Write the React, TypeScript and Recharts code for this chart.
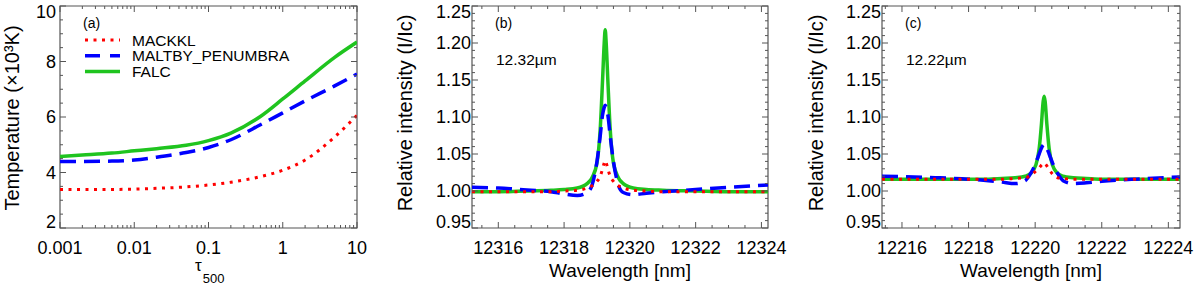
import { LineChart, Line, XAxis, YAxis, ReferenceArea } from "recharts";

// (a) temperature stratification of the three atmosphere models
const tau = [0.001, 0.002, 0.005, 0.01, 0.02, 0.05, 0.1, 0.2, 0.5, 1, 2, 5, 10];
const tempMackkl = [3.39, 3.39, 3.39, 3.4, 3.43, 3.48, 3.55, 3.65, 3.85, 4.08, 4.45, 5.28, 6.06];
const tempMaltby = [4.4, 4.4, 4.41, 4.45, 4.55, 4.72, 4.9, 5.18, 5.72, 6.15, 6.58, 7.12, 7.55];
const tempFalc = [4.58, 4.63, 4.7, 4.78, 4.86, 4.98, 5.15, 5.42, 6.02, 6.65, 7.3, 8.15, 8.7];

// (b) 12.32 micron line profiles
const wlB = [
  12315.2, 12316, 12317, 12317.6, 12318, 12318.4, 12318.7, 12318.85, 12319.0, 12319.1, 12319.17,
  12319.22, 12319.25, 12319.28, 12319.33, 12319.4, 12319.5, 12319.65, 12319.8, 12320.1, 12320.5,
  12321, 12322, 12323, 12324.2,
];
const intMackklB = [
  0.999, 0.999, 0.999, 0.999, 1.0, 1.001, 1.004, 1.007, 1.013, 1.02, 1.03, 1.038, 1.041, 1.038,
  1.03, 1.02, 1.013, 1.007, 1.004, 1.001, 1.0, 0.999, 0.999, 0.999, 0.999,
];
const intMaltbyB = [
  1.005, 1.004, 1.001, 0.999, 0.996, 0.994, 0.998, 1.008, 1.04, 1.075, 1.103, 1.113, 1.116, 1.113,
  1.103, 1.075, 1.04, 1.008, 0.998, 0.995, 0.997, 0.999, 1.002, 1.005, 1.008,
];
const intFalcB = [
  0.999, 0.999, 1.0, 1.001, 1.002, 1.004, 1.01, 1.018, 1.038, 1.085, 1.15, 1.2, 1.218, 1.2, 1.15,
  1.085, 1.038, 1.018, 1.01, 1.004, 1.002, 1.001, 1.0, 0.999, 0.999,
];

// (c) 12.22 micron line profiles
const wlC = [
  12215.4, 12216, 12217, 12218, 12218.6, 12219.0, 12219.4, 12219.7, 12219.87, 12220.02, 12220.12,
  12220.19, 12220.24, 12220.27, 12220.3, 12220.35, 12220.42, 12220.52, 12220.67, 12220.84,
  12221.14, 12221.54, 12222, 12223, 12224.35,
];
const intMackklC = [
  1.016, 1.016, 1.016, 1.016, 1.016, 1.016, 1.017, 1.018, 1.021, 1.027, 1.031, 1.035, 1.037, 1.038,
  1.037, 1.034, 1.029, 1.023, 1.018, 1.017, 1.016, 1.016, 1.016, 1.016, 1.016,
];
const intMaltbyC = [
  1.02, 1.0195, 1.018, 1.016, 1.014, 1.012, 1.01, 1.014, 1.024, 1.038, 1.05, 1.058, 1.062, 1.063,
  1.062, 1.058, 1.05, 1.038, 1.024, 1.014, 1.01, 1.011, 1.013, 1.016, 1.019,
];
const intFalcC = [
  1.016, 1.016, 1.016, 1.016, 1.016, 1.017, 1.018, 1.02, 1.024, 1.035, 1.057, 1.091, 1.121, 1.128,
  1.121, 1.091, 1.057, 1.035, 1.024, 1.02, 1.018, 1.017, 1.016, 1.016, 1.016,
];

const tauMajor = [0.001, 0.01, 0.1, 1, 10];
const tempMajor = [2, 4, 6, 8, 10];
const intMajor = [0.95, 1.0, 1.05, 1.1, 1.15, 1.2, 1.25];
const wlMajorB = [12316, 12318, 12320, 12322, 12324];
const wlMajorC = [12216, 12218, 12220, 12222, 12224];

const FONT = "'Liberation Sans', Arial, Helvetica, sans-serif";
const FRAME = "#555";
const RED = "#ff0000";
const BLUE = "#0000ff";
const GREEN = "#1fc41f";
const PLOT_H = 222;

const range = (from: number, to: number, step: number) => {
  const n = Math.round((to - from) / step);
  return Array.from({ length: n + 1 }, (_, i) => +(from + i * step).toFixed(4));
};

const logTicks = [0.001, 0.01, 0.1, 1]
  .flatMap((d) => [1, 2, 3, 4, 5, 6, 7, 8, 9].map((k) => +(k * d).toPrecision(6)))
  .concat([10]);

const isMajor = (v: number, majors: number[]) => majors.some((m) => Math.abs(m - v) < 1e-9);

function BottomTick(props: any) {
  const { x, y, payload, majors, plotH } = props;
  const major = isMajor(payload.value, majors);
  const len = major ? 6 : 3;
  return (
    <g>
      <line x1={x} x2={x} y1={y} y2={y - len} stroke={FRAME} />
      <line x1={x} x2={x} y1={y - plotH} y2={y - plotH + len} stroke={FRAME} />
      {major && (
        <text x={x} y={y + 26} textAnchor="middle" fontSize={18} fill="#000" fontFamily={FONT}>
          {String(payload.value)}
        </text>
      )}
    </g>
  );
}

function LeftTick(props: any) {
  const { x, y, payload, majors, plotW, gap, lo, hi, digits } = props;
  const v = payload.value;
  const major = isMajor(v, majors);
  const len = major ? 6 : 3;
  // labels at the ends of the axis are pulled inward, as in the original plot
  const shift = Math.abs(v - hi) < 1e-9 ? 6 : Math.abs(v - lo) < 1e-9 ? -6 : 0;
  return (
    <g>
      <line x1={x} x2={x + len} y1={y} y2={y} stroke={FRAME} />
      <line x1={x + plotW} x2={x + plotW - len} y1={y} y2={y} stroke={FRAME} />
      {major && (
        <text
          x={x - gap}
          y={y + shift}
          dy="0.35em"
          textAnchor="end"
          fontSize={18}
          fill="#000"
          fontFamily={FONT}
        >
          {digits ? v.toFixed(digits) : String(v)}
        </text>
      )}
    </g>
  );
}

function YTitle(props: any) {
  const { tx, ty, title } = props;
  return (
    <text
      x={tx}
      y={ty}
      transform={`rotate(-90, ${tx}, ${ty})`}
      textAnchor="middle"
      fontSize={20}
      fill="#000"
      fontFamily={FONT}
    >
      {title}
    </text>
  );
}

function XTitle(props: any) {
  const { tx, ty, title } = props;
  return (
    <text x={tx} y={ty} textAnchor="middle" fontSize={19} fill="#000" fontFamily={FONT}>
      {title}
    </text>
  );
}

function TauTitle() {
  return (
    <text x={195} y={271} fill="#000" fontFamily={FONT}>
      <tspan fontSize={17}>τ</tspan>
      <tspan fontSize={13} dy={12} dx={1}>
        500
      </tspan>
    </text>
  );
}

function PanelNote(props: any) {
  const { px, py, tag, note } = props;
  return (
    <g fontFamily={FONT} fill="#000">
      <text x={px + 23} y={py + 22} fontSize={14}>
        {tag}
      </text>
      {note && (
        <text x={px + 24} y={py + 59} fontSize={15.5}>
          {note}
        </text>
      )}
    </g>
  );
}

const legendItems = [
  { name: "MACKKL", color: RED, width: 3, dash: "3 5.5" },
  { name: "MALTBY_PENUMBRA", color: BLUE, width: 3.5, dash: "15 10" },
  { name: "FALC", color: GREEN, width: 3.5, dash: undefined },
];

function ModelLegend() {
  return (
    <g fontFamily={FONT} fill="#000">
      <text x={83} y={28} fontSize={14}>
        (a)
      </text>
      {legendItems.map((item, i) => {
        const cy = 40 + i * 15.8;
        return (
          <g key={item.name}>
            <line
              x1={85}
              x2={120}
              y1={cy}
              y2={cy}
              stroke={item.color}
              strokeWidth={item.width}
              strokeDasharray={item.dash}
            />
            <text x={132} y={cy + 5.6} fontSize={15.5}>
              {item.name}
            </text>
          </g>
        );
      })}
    </g>
  );
}

const tempRows = tau.map((t, i) => ({
  tau: t,
  mackkl: tempMackkl[i],
  maltby: tempMaltby[i],
  falc: tempFalc[i],
}));
const rowsB = wlB.map((w, i) => ({
  wl: w,
  mackkl: intMackklB[i],
  maltby: intMaltbyB[i],
  falc: intFalcB[i],
}));
const rowsC = wlC.map((w, i) => ({
  wl: w,
  mackkl: intMackklC[i],
  maltby: intMaltbyC[i],
  falc: intFalcC[i],
}));

function TemperaturePanel() {
  const plotW = 297;
  return (
    <LineChart
      width={370}
      height={286}
      data={tempRows}
      margin={{ top: 6, right: 13, left: 0, bottom: 0 }}
      style={{ fontFamily: FONT }}
    >
      <XAxis
        dataKey="tau"
        type="number"
        scale="log"
        domain={[0.001, 10]}
        allowDataOverflow
        ticks={logTicks}
        interval={0}
        height={58}
        axisLine={false}
        tickLine={false}
        tickSize={0}
        tickMargin={0}
        tick={<BottomTick majors={tauMajor} plotH={PLOT_H} />}
        label={<TauTitle />}
      />
      <YAxis
        type="number"
        domain={[2, 10]}
        allowDataOverflow
        ticks={range(2, 10, 0.5)}
        interval={0}
        width={60}
        axisLine={false}
        tickLine={false}
        tickSize={0}
        tickMargin={0}
        tick={<LeftTick majors={tempMajor} plotW={plotW} gap={4} lo={2} hi={10} digits={0} />}
        label={<YTitle tx={18.5} ty={118} title="Temperature (×10³K)" />}
      />
      <ReferenceArea
        x1={0.001}
        x2={10}
        y1={2}
        y2={10}
        fill="none"
        stroke={FRAME}
        strokeWidth={1.2}
        label={<ModelLegend />}
      />
      <Line
        dataKey="falc"
        stroke={GREEN}
        strokeWidth={3.5}
        dot={false}
        type="monotone"
        isAnimationActive={false}
      />
      <Line
        dataKey="maltby"
        stroke={BLUE}
        strokeWidth={3.5}
        strokeDasharray="16 8"
        dot={false}
        type="monotone"
        isAnimationActive={false}
      />
      <Line
        dataKey="mackkl"
        stroke={RED}
        strokeWidth={3}
        strokeDasharray="3 5.5"
        dot={false}
        type="monotone"
        isAnimationActive={false}
      />
    </LineChart>
  );
}

interface ProfileProps {
  rows: { wl: number; mackkl: number; maltby: number; falc: number }[];
  width: number;
  plotW: number;
  domain: [number, number];
  majors: number[];
  tag: string;
  note: string;
  titleX: number;
}

function ProfilePanel({ rows, width, plotW, domain, majors, tag, note, titleX }: ProfileProps) {
  const xTicks = range(Math.ceil(domain[0] * 2) / 2, Math.floor(domain[1] * 2) / 2, 0.5);
  return (
    <LineChart
      width={width}
      height={286}
      data={rows}
      margin={{ top: 6, right: width - 92 - plotW, left: 0, bottom: 0 }}
      style={{ fontFamily: FONT }}
    >
      <XAxis
        dataKey="wl"
        type="number"
        domain={domain}
        allowDataOverflow
        ticks={xTicks}
        interval={0}
        height={58}
        axisLine={false}
        tickLine={false}
        tickSize={0}
        tickMargin={0}
        tick={<BottomTick majors={majors} plotH={PLOT_H} />}
        label={<XTitle tx={92 + plotW / 2} ty={277} title="Wavelength [nm]" />}
      />
      <YAxis
        type="number"
        domain={[0.95, 1.25]}
        allowDataOverflow
        ticks={range(0.95, 1.25, 0.01)}
        interval={0}
        width={92}
        axisLine={false}
        tickLine={false}
        tickSize={0}
        tickMargin={0}
        tick={<LeftTick majors={intMajor} plotW={plotW} gap={1} lo={0.95} hi={1.25} digits={2} />}
        label={<YTitle tx={titleX} ty={113} title="Relative intensity (I/Ic)" />}
      />
      <ReferenceArea
        x1={domain[0]}
        x2={domain[1]}
        y1={0.95}
        y2={1.25}
        fill="none"
        stroke={FRAME}
        strokeWidth={1.2}
        label={<PanelNote px={92} py={6} tag={tag} note={note} />}
      />
      <Line
        dataKey="falc"
        stroke={GREEN}
        strokeWidth={3.5}
        dot={false}
        type="monotone"
        isAnimationActive={false}
      />
      <Line
        dataKey="maltby"
        stroke={BLUE}
        strokeWidth={3.5}
        strokeDasharray="16 8"
        dot={false}
        type="monotone"
        isAnimationActive={false}
      />
      <Line
        dataKey="mackkl"
        stroke={RED}
        strokeWidth={3}
        strokeDasharray="3 5.5"
        dot={false}
        type="monotone"
        isAnimationActive={false}
      />
    </LineChart>
  );
}

export default function App() {
  return (
    <div
      style={{
        position: "absolute",
        left: 0,
        top: 0,
        width: 1200,
        height: 286,
        background: "#fff",
        fontFamily: FONT,
      }}
    >
      <div style={{ position: "absolute", left: 0, top: 0 }}>
        <TemperaturePanel />
      </div>
      <div style={{ position: "absolute", left: 380, top: 0 }}>
        <ProfilePanel
          rows={rowsB}
          width={410}
          plotW={296}
          domain={[12315.2, 12324.2]}
          majors={wlMajorB}
          tag="(b)"
          note="12.32µm"
          titleX={32}
        />
      </div>
      <div style={{ position: "absolute", left: 790, top: 0 }}>
        <ProfilePanel
          rows={rowsC}
          width={410}
          plotW={298}
          domain={[12215.4, 12224.35]}
          majors={wlMajorC}
          tag="(c)"
          note="12.22µm"
          titleX={33}
        />
      </div>
    </div>
  );
}
